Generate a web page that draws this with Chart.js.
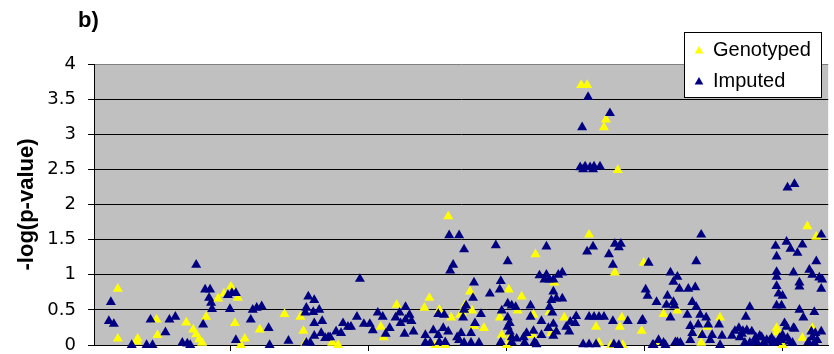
<!DOCTYPE html>
<html>
<head>
<meta charset="utf-8">
<script src="https://cdn.jsdelivr.net/npm/chart.js@4/dist/chart.umd.min.js"></script>
<style>
  html, body { margin: 0; padding: 0; background: #ffffff; }
  #wrap { width: 834px; height: 354px; }
</style>
</head>
<body>
<div id="wrap"><canvas id="plot" width="834" height="354"></canvas></div>
<script>
// Marker positions along the region (arbitrary position index) and -log10(p)
const genotypedPos = [25,25,45,44,64,65,94,101,104,107,110,114,126,132,139,146,143,149,153,168,193,209,212,214,241,247,290,293,306,334,339,349,361,345,355,358,370,372,375,382,380,384,394,410,412,417,419,420,428,432,444,443,446,460,462,465,475,492,498,517,515,529,500,526,507,531,533,510,522,534,553,555,569,575,589,613,613,619,632,689,689,695,715,725,720,729];
const genotypedVal = [0.80,0.09,0.09,0.05,0.36,0.14,0.32,0.22,0.15,0.08,0.03,0.40,0.66,0.73,0.83,0.67,0.31,0.00,0.09,0.22,0.44,0.40,0.20,0.03,0.03,0.00,0.26,0.11,0.57,0.53,0.67,0.50,0.39,0.00,0.00,1.83,0.43,0.46,0.57,0.49,0.76,0.27,0.24,0.39,0.14,0.00,0.79,0.10,0.49,0.69,0.43,0.14,1.29,0.47,0.17,0.89,0.39,3.70,3.70,3.21,3.10,2.49,1.57,1.03,0.26,0.26,0.39,0.03,0.00,0.00,0.20,1.17,0.04,0.44,0.49,0.14,0.03,0.26,0.39,0.24,0.18,0.00,0.10,0.24,1.69,1.54];

const imputedPos = [104,18,16,21,39,54,60,58,73,77,83,90,95,98,111,113,118,117,119,120,136,140,144,138,144,159,161,165,170,177,178,
  359,369,374,363,360,269,197,217,223,215,214,222,215,219,228,223,231,223,230,234,239,245,250,237,252,257,260,266,273,279,282,287,292,295,299,305,309,315,319,310,315,321,314,323,348,354,335,343,348,353,358,335,340,349,355,367,
  406,418,457,504,498,526,532,530,520,524,450,457,464,469,473,455,460,384,411,410,400,383,464,462,467,473,376,374,373,391,418,422,426,412,441,441,460,463,418,420,418,420,422,385,381,371,369,374,381,389,452,444,452,459,464,467,464,411,422,427,434,435,445,447,437,487,481,486,477,480,500,505,510,515,524,539,553,494,500,507,525,530,
  499,521,493,491,496,501,505,511,494,504,
  613,608,560,582,589,585,591,600,607,557,559,568,579,578,585,586,582,604,608,599,612,618,610,602,620,631,604,614,624,634,622,602,564,575,577,589,592,632,554,662,658,644,651,654,659,664,668,674,679,676,684,687,669,657,662,
  688,689,699,703,710,715,734,729,722,725,732,735,734,706,712,712,689,689,689,691,695,689,694,712,727,716,697,699,706,695,700,694,724,728,734,725,730,721,727,700,707,707,
  647,652,655,667,672,682,685,690,692,702,705,565,570,587];
const imputedVal = [1.14,0.61,0.34,0.30,0.00,0.00,0.00,0.36,0.18,0.36,0.40,0.03,0.02,0.00,0.29,0.79,0.79,0.67,0.60,0.51,0.71,0.74,0.74,0.51,0.07,0.36,0.50,0.53,0.55,0.24,0.00,
  1.56,1.56,1.36,1.14,1.06,0.94,0.06,0.69,0.64,0.53,0.46,0.47,0.03,0.03,0.50,0.31,0.34,0.13,0.17,0.10,0.11,0.19,0.17,0.11,0.31,0.26,0.26,0.40,0.30,0.30,0.21,0.46,0.40,0.16,0.24,0.39,0.46,0.54,0.43,0.31,0.36,0.34,0.16,0.19,0.44,0.43,0.14,0.21,0.14,0.24,0.19,0.03,0.03,0.04,0.04,0.11,
  1.42,1.19,1.40,1.40,1.33,1.44,1.44,1.39,1.29,1.14,0.99,1.00,0.93,1.00,1.03,0.93,0.93,0.89,0.91,0.79,0.73,0.67,0.76,0.64,0.66,0.66,0.56,0.50,0.39,0.44,0.59,0.56,0.54,0.49,0.56,0.40,0.54,0.46,0.39,0.31,0.26,0.19,0.11,0.31,0.17,0.17,0.07,0.03,0.03,0.03,0.34,0.20,0.14,0.24,0.30,0.19,0.13,0.04,0.04,0.09,0.11,0.03,0.04,0.01,0.17,0.41,0.33,0.31,0.26,0.19,0.40,0.40,0.40,0.40,0.34,0.34,0.34,0.01,0.01,0.01,0.01,0.00,
  3.53,3.30,3.10,2.53,2.54,2.53,2.54,2.54,2.50,2.50,
  1.57,1.19,1.17,1.03,0.97,0.90,0.80,0.80,0.82,0.79,0.70,0.61,0.70,0.57,0.61,0.56,0.39,0.61,0.54,0.43,0.43,0.39,0.29,0.27,0.29,0.29,0.17,0.14,0.14,0.13,0.07,0.07,0.00,0.03,0.00,0.04,0.03,0.00,0.36,0.54,0.40,0.13,0.24,0.16,0.21,0.19,0.11,0.11,0.07,0.03,0.10,0.04,0.04,0.03,0.03,
  1.41,1.26,1.47,1.37,1.31,1.43,1.57,1.19,1.07,1.00,0.96,0.93,0.80,1.03,0.89,0.83,1.04,0.97,0.84,0.73,0.70,0.56,0.56,0.50,0.47,0.39,0.31,0.26,0.24,0.14,0.10,0.07,0.19,0.17,0.19,0.11,0.07,0.04,0.03,2.24,2.29,0.23,
  0.20,0.11,0.20,0.05,0.13,0.06,0.03,0.04,0.10,0.05,0.03,0.00,0.07,0.04];

const yTicks = [0, 0.5, 1, 1.5, 2, 2.5, 3, 3.5, 4];
const xTickPositions = [139, 278, 417, 556, 695];
const seriesNames = ['Genotyped', 'Imputed'];
const panelLabel = 'b)';
const yTitle = '-log(p-value)';

const GENO_COLOR = '#ffff00';
const IMP_COLOR = '#000080';

function pairs(xs, ys) {
  return xs.map((x, i) => ({ x: x, y: ys[i] }));
}

// Plot background, panel letter and the boxed legend
const decor = {
  id: 'decor',
  beforeDraw(chart) {
    const { ctx, chartArea: a } = chart;
    ctx.save();
    ctx.fillStyle = '#ffffff';
    ctx.fillRect(0, 0, chart.width, chart.height);
    ctx.fillStyle = '#c0c0c0';
    ctx.fillRect(a.left, a.top, a.right - a.left, a.bottom - a.top);
    ctx.restore();
  },
  afterDraw(chart) {
    const ctx = chart.ctx;
    ctx.save();
    ctx.fillStyle = '#000';
    ctx.font = 'bold 22px "Liberation Sans", Arial, sans-serif';
    ctx.textBaseline = 'alphabetic';
    ctx.textAlign = 'left';
    ctx.fillText(panelLabel, 78, 27);

    // legend box
    const bx = 684.5, by = 32.5, bw = 137, bh = 65;
    ctx.fillStyle = '#ffffff';
    ctx.fillRect(bx, by, bw, bh);
    ctx.strokeStyle = '#000';
    ctx.lineWidth = 1;
    ctx.strokeRect(bx, by, bw, bh);

    const colors = { Genotyped: GENO_COLOR, Imputed: IMP_COLOR };
    const rows = [50, 81];
    ctx.font = '20px "Liberation Sans", Arial, sans-serif';
    ctx.textBaseline = 'middle';
    seriesNames.forEach((name, i) => {
      const cx = 699, cy = rows[i] + 1, r = 5;
      ctx.beginPath();
      ctx.moveTo(cx, cy - r);
      ctx.lineTo(cx + r * Math.sin(2 * Math.PI / 3), cy - r * Math.cos(2 * Math.PI / 3));
      ctx.lineTo(cx + r * Math.sin(4 * Math.PI / 3), cy - r * Math.cos(4 * Math.PI / 3));
      ctx.closePath();
      ctx.fillStyle = colors[name];
      ctx.fill();
      ctx.fillStyle = '#000';
      ctx.fillText(name, 713, rows[i]);
    });
    ctx.restore();
  }
};

const chart = new Chart(document.getElementById('plot'), {
  type: 'scatter',
  data: {
    datasets: [
      {
        label: seriesNames[1],
        data: pairs(imputedPos, imputedVal),
        pointStyle: 'triangle',
        pointRadius: 5.8,
        pointBorderWidth: 0,
        backgroundColor: IMP_COLOR,
        borderColor: IMP_COLOR,
        clip: false
      },
      {
        label: seriesNames[0],
        data: pairs(genotypedPos, genotypedVal),
        pointStyle: 'triangle',
        pointRadius: 5.8,
        pointBorderWidth: 0,
        backgroundColor: GENO_COLOR,
        borderColor: GENO_COLOR,
        clip: false
      }
    ]
  },
  options: {
    responsive: false,
    animation: false,
    devicePixelRatio: 1,
    layout: { padding: { top: 64, left: 0, right: 0, bottom: 0 } },
    plugins: {
      legend: { display: false },
      tooltip: { enabled: false },
      title: { display: false }
    },
    scales: {
      x: {
        type: 'linear',
        position: 'bottom',
        min: 1,
        max: 741,
        afterBuildTicks: (s) => { s.ticks = xTickPositions.map(v => ({ value: v })); },
        afterFit: (s) => {
          s.height = 9;
          s.paddingLeft = 0; s.paddingRight = 0; s.paddingTop = 0; s.paddingBottom = 0;
        },
        ticks: { display: false },
        grid: {
          drawOnChartArea: false,
          drawTicks: true,
          tickLength: 6,
          color: '#000',
          tickColor: '#000'
        },
        border: { display: true, color: '#000', width: 1 }
      },
      y: {
        type: 'linear',
        min: 0,
        max: 4,
        afterBuildTicks: (s) => { s.ticks = yTicks.map(v => ({ value: v })); },
        afterFit: (s) => {
          s.width = 94;
          s.paddingTop = 0; s.paddingBottom = 0; s.paddingLeft = 0; s.paddingRight = 0;
        },
        ticks: {
          color: '#000',
          padding: 12,
          callback: (v) => String(v),
          font: { family: '"DejaVu Sans", sans-serif', size: 18 }
        },
        grid: {
          color: (c) => (c.tick && c.tick.value === 4 ? '#808080' : '#000'),
          tickColor: '#000',
          tickLength: 6,
          lineWidth: 1
        },
        border: { display: true, color: '#000', width: 1 },
        title: {
          display: true,
          text: yTitle,
          color: '#000',
          padding: { top: 14, bottom: 0 },
          font: { family: '"Liberation Sans", Arial, sans-serif', size: 22, weight: 'bold' }
        }
      }
    }
  },
  plugins: [decor]
});
</script>
</body>
</html>
